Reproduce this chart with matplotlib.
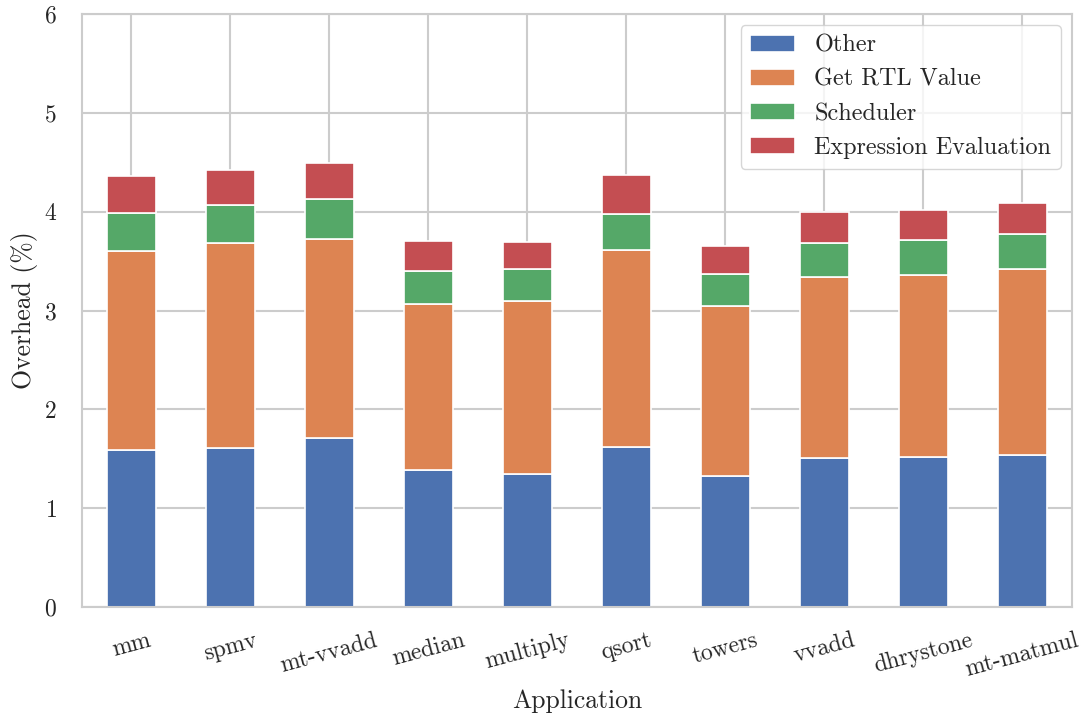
import numpy as np
import matplotlib
matplotlib.use('Agg')
import matplotlib.pyplot as plt
import seaborn as sns

apps = ['mm', 'spmv', 'mt-vvadd', 'median', 'multiply', 'qsort',
        'towers', 'vvadd', 'dhrystone', 'mt-matmul']
other = [1.59, 1.61, 1.71, 1.39, 1.35, 1.62, 1.33, 1.51, 1.52, 1.54]
rtl = [2.01, 2.07, 2.01, 1.68, 1.75, 1.99, 1.72, 1.83, 1.84, 1.88]
sched = [0.39, 0.39, 0.41, 0.33, 0.32, 0.37, 0.32, 0.34, 0.35, 0.35]
expr = [0.37, 0.35, 0.36, 0.30, 0.27, 0.39, 0.28, 0.32, 0.31, 0.32]
series = ['Other', 'Get RTL Value', 'Scheduler', 'Expression Evaluation']

sns.set_theme(style='whitegrid')
plt.rcParams['font.family'] = ['cmr10', 'DejaVu Serif']
plt.rcParams['mathtext.fontset'] = 'cm'
plt.rcParams['axes.formatter.use_mathtext'] = True

colors = sns.color_palette('deep')[:4]

fig = plt.figure(figsize=(10.83, 7.17), dpi=100)
ax = fig.add_axes([0.0757, 0.1534, 0.914, 0.827])

x = np.arange(len(apps))
bottom = np.zeros(len(apps))
for name, vals, c in zip(series, [other, rtl, sched, expr], colors):
    ax.bar(x, vals, 0.5, bottom=bottom, color=c, edgecolor='white',
           linewidth=1.2, label=name)
    bottom += np.array(vals)

ax.set_xlim(-0.5, len(apps) - 0.5)
ax.set_ylim(0, 6)
ax.set_xticks(x)
ax.set_xticklabels(apps, rotation=15, fontsize=17)
ax.tick_params(axis='y', labelsize=17, pad=12)
ax.tick_params(axis='x', pad=10)
ax.set_xlabel('Application', fontsize=18.5, labelpad=6)
ax.set_ylabel('Overhead (%)', fontsize=18.5, labelpad=4)
ax.set_axisbelow(True)
for s in ax.spines.values():
    s.set_color('#cccccc')
    s.set_linewidth(1.5)
ax.grid(True, color='#cccccc', linewidth=1.5)
ax.legend(loc='upper right', fontsize=17.4, frameon=True, handlelength=1.85,
          borderaxespad=0.45)

fig.savefig('out.png', dpi=100)
